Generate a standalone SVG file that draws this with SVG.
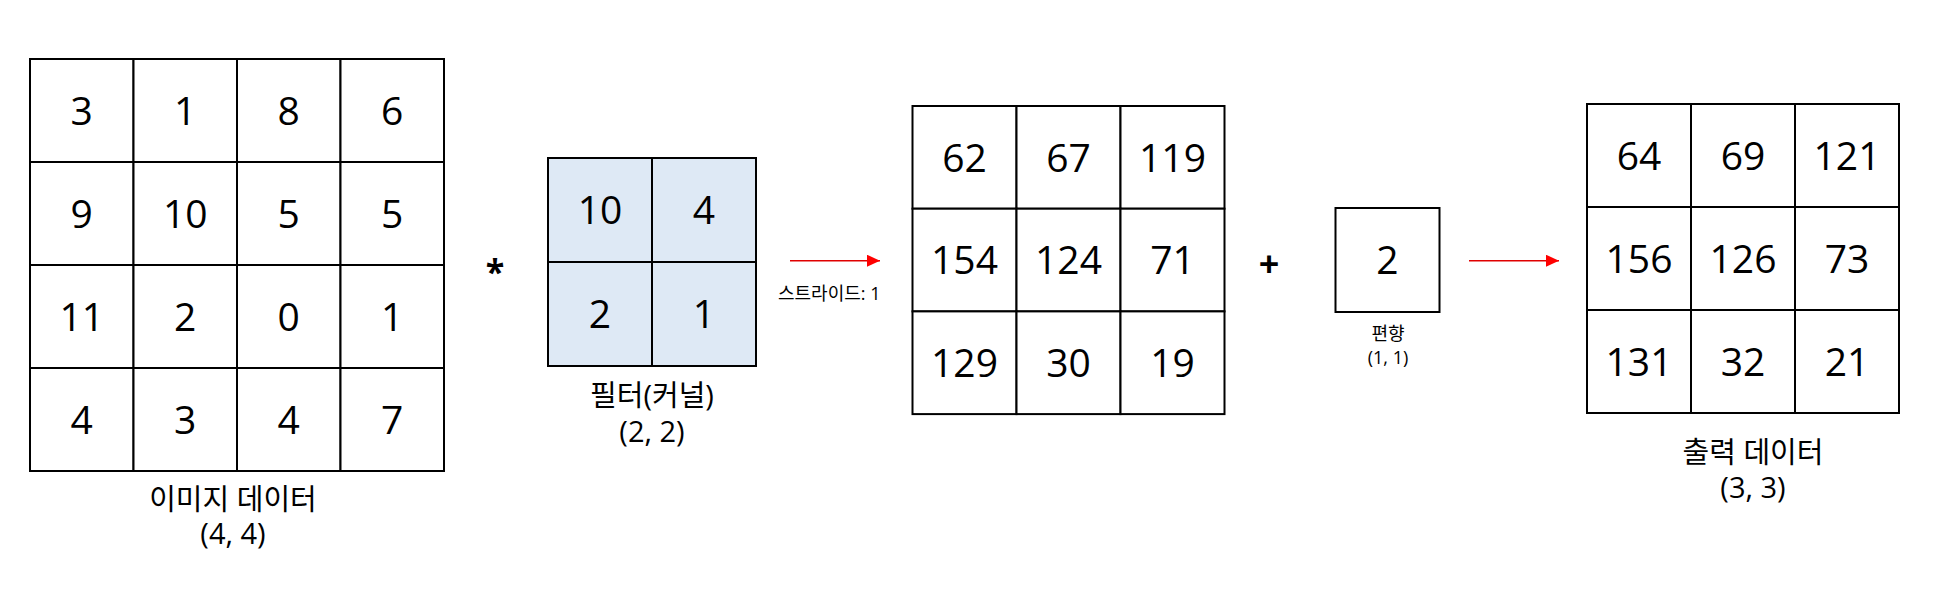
<svg xmlns="http://www.w3.org/2000/svg" width="1939" height="603" viewBox="0 0 1939 603">
<defs>
<style>
.cell{fill:#ffffff;stroke:#000000;stroke-width:2}
.fcell{fill:#dee9f5;stroke:#000000;stroke-width:2}
.num{font-family:"Open Sans","Noto Sans CJK KR",sans-serif;font-size:39px;fill:#000;text-anchor:middle}
.lbl{font-family:"Open Sans","Noto Sans CJK KR",sans-serif;font-size:29px;fill:#000;text-anchor:middle}
.sm{font-family:"Open Sans","Noto Sans CJK KR",sans-serif;font-size:18px;fill:#000}
.op{font-family:"Open Sans","Noto Sans CJK KR",sans-serif;font-weight:bold;fill:#000;text-anchor:middle}
.arr{stroke:#e00000;stroke-width:1.5;fill:none}
</style>
<marker id="ah" markerWidth="13" markerHeight="12" refX="13" refY="6" orient="auto" markerUnits="userSpaceOnUse">
<path d="M0,0 L13,6 L0,12 Z" fill="#ff0000"/>
</marker>
</defs>
<rect width="1939" height="603" fill="#ffffff"/>

<g id="image-data">
<rect class="cell" x="30" y="59" width="103.5" height="103"/>
<rect class="cell" x="133.5" y="59" width="103.5" height="103"/>
<rect class="cell" x="237" y="59" width="103.5" height="103"/>
<rect class="cell" x="340.5" y="59" width="103.5" height="103"/>
<rect class="cell" x="30" y="162" width="103.5" height="103"/>
<rect class="cell" x="133.5" y="162" width="103.5" height="103"/>
<rect class="cell" x="237" y="162" width="103.5" height="103"/>
<rect class="cell" x="340.5" y="162" width="103.5" height="103"/>
<rect class="cell" x="30" y="265" width="103.5" height="103"/>
<rect class="cell" x="133.5" y="265" width="103.5" height="103"/>
<rect class="cell" x="237" y="265" width="103.5" height="103"/>
<rect class="cell" x="340.5" y="265" width="103.5" height="103"/>
<rect class="cell" x="30" y="368" width="103.5" height="103"/>
<rect class="cell" x="133.5" y="368" width="103.5" height="103"/>
<rect class="cell" x="237" y="368" width="103.5" height="103"/>
<rect class="cell" x="340.5" y="368" width="103.5" height="103"/>
<text class="num" x="81.75" y="124.5">3</text>
<text class="num" x="185.25" y="124.5">1</text>
<text class="num" x="288.75" y="124.5">8</text>
<text class="num" x="392.25" y="124.5">6</text>
<text class="num" x="81.75" y="227.5">9</text>
<text class="num" x="185.25" y="227.5">10</text>
<text class="num" x="288.75" y="227.5">5</text>
<text class="num" x="392.25" y="227.5">5</text>
<text class="num" x="81.75" y="330.5">11</text>
<text class="num" x="185.25" y="330.5">2</text>
<text class="num" x="288.75" y="330.5">0</text>
<text class="num" x="392.25" y="330.5">1</text>
<text class="num" x="81.75" y="433.5">4</text>
<text class="num" x="185.25" y="433.5">3</text>
<text class="num" x="288.75" y="433.5">4</text>
<text class="num" x="392.25" y="433.5">7</text>
<text class="lbl" x="233" y="510">이미지 데이터</text>
<text class="lbl" x="233" y="544">(4, 4)</text>
</g>

<g id="conv-op">
<text class="op" x="495" y="284" font-size="34">*</text>
</g>

<g id="filter">
<rect class="fcell" x="548" y="158" width="104" height="104"/>
<rect class="fcell" x="652" y="158" width="104" height="104"/>
<rect class="fcell" x="548" y="262" width="104" height="104"/>
<rect class="fcell" x="652" y="262" width="104" height="104"/>
<text class="num" x="600" y="224">10</text>
<text class="num" x="704" y="224">4</text>
<text class="num" x="600" y="328">2</text>
<text class="num" x="704" y="328">1</text>
<text class="lbl" x="652" y="406">필터(커널)</text>
<text class="lbl" x="652" y="442">(2, 2)</text>
</g>

<g id="feature-map">
<rect class="cell" x="912.5" y="106" width="104" height="102.7"/>
<rect class="cell" x="1016.5" y="106" width="104" height="102.7"/>
<rect class="cell" x="1120.5" y="106" width="104" height="102.7"/>
<rect class="cell" x="912.5" y="208.7" width="104" height="102.7"/>
<rect class="cell" x="1016.5" y="208.7" width="104" height="102.7"/>
<rect class="cell" x="1120.5" y="208.7" width="104" height="102.7"/>
<rect class="cell" x="912.5" y="311.4" width="104" height="102.7"/>
<rect class="cell" x="1016.5" y="311.4" width="104" height="102.7"/>
<rect class="cell" x="1120.5" y="311.4" width="104" height="102.7"/>
<text class="num" x="964.5" y="171.5">62</text>
<text class="num" x="1068.5" y="171.5">67</text>
<text class="num" x="1172.5" y="171.5">119</text>
<text class="num" x="964.5" y="274">154</text>
<text class="num" x="1068.5" y="274">124</text>
<text class="num" x="1172.5" y="274">71</text>
<text class="num" x="964.5" y="377">129</text>
<text class="num" x="1068.5" y="377">30</text>
<text class="num" x="1172.5" y="377">19</text>
</g>

<g id="add-op">
<text class="op" x="1269" y="277" font-size="36">+</text>
</g>

<g id="bias">
<rect class="cell" x="1335.5" y="208" width="104" height="104"/>
<text class="num" x="1387.5" y="274">2</text>
<text class="sm" x="1388" y="340" text-anchor="middle" font-size="19">편향</text>
<text class="sm" x="1388" y="364" text-anchor="middle" font-size="19">(1, 1)</text>
</g>

<g id="output-data">
<rect class="cell" x="1587" y="104" width="104" height="103"/>
<rect class="cell" x="1691" y="104" width="104" height="103"/>
<rect class="cell" x="1795" y="104" width="104" height="103"/>
<rect class="cell" x="1587" y="207" width="104" height="103"/>
<rect class="cell" x="1691" y="207" width="104" height="103"/>
<rect class="cell" x="1795" y="207" width="104" height="103"/>
<rect class="cell" x="1587" y="310" width="104" height="103"/>
<rect class="cell" x="1691" y="310" width="104" height="103"/>
<rect class="cell" x="1795" y="310" width="104" height="103"/>
<text class="num" x="1639" y="169.5">64</text>
<text class="num" x="1743" y="169.5">69</text>
<text class="num" x="1847" y="169.5">121</text>
<text class="num" x="1639" y="272.5">156</text>
<text class="num" x="1743" y="272.5">126</text>
<text class="num" x="1847" y="272.5">73</text>
<text class="num" x="1639" y="375.5">131</text>
<text class="num" x="1743" y="375.5">32</text>
<text class="num" x="1847" y="375.5">21</text>
<text class="lbl" x="1753" y="463">출력 데이터</text>
<text class="lbl" x="1753" y="498">(3, 3)</text>
</g>

<g id="connectors">
<line class="arr" x1="790" y1="260.7" x2="880" y2="260.7" marker-end="url(#ah)"/>
<text class="sm" x="778" y="300">스트라이드: 1</text>
<line class="arr" x1="1469" y1="260.7" x2="1559" y2="260.7" marker-end="url(#ah)"/>
</g>
</svg>
